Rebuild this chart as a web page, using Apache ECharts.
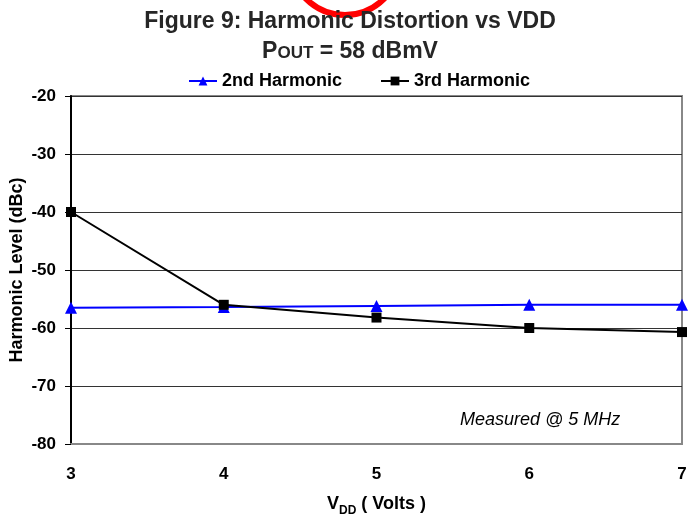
<!DOCTYPE html>
<html>
<head>
<meta charset="utf-8">
<script src="https://cdn.jsdelivr.net/npm/echarts@6/dist/echarts.min.js"></script>
<style>
  html, body { margin: 0; padding: 0; background: #fff; }
  #chart { width: 688px; height: 517px; }
</style>
</head>
<body>
<div id="chart"></div>
<script>
// Supply voltage (V) on the x axis
const vdd = [3, 4, 5, 6, 7];
// Harmonic levels in dBc
const harmonic2nd = [-56.5, -56.4, -56.2, -56.0, -56.0];
const harmonic3rd = [-40.0, -56.0, -58.2, -60.0, -60.7];
const yTicks = [-80, -70, -60, -50, -40, -30, -20];
const xTicks = [3, 4, 5, 6, 7];

const FONT = 'Liberation Sans, Arial, sans-serif';

const chart = echarts.init(document.getElementById('chart'), null, { renderer: 'canvas' });

chart.setOption({
  backgroundColor: '#ffffff',
  animation: false,
  title: {
    text: '{t|Figure 9: Harmonic Distortion vs VDD}\n{t|P}{s|OUT}{t| = 58 dBmV}',
    left: 345,
    top: 2,
    textAlign: 'center',
    textStyle: {
      rich: {
        t: { fontFamily: FONT, fontWeight: 'bold', fontSize: 23, color: '#262626', lineHeight: 30 },
        s: { fontFamily: FONT, fontWeight: 'bold', fontSize: 17, color: '#262626', lineHeight: 30, verticalAlign: 'bottom', padding: [0, 0, 5, 0] }
      }
    }
  },
  legend: {
    top: 67,
    left: 183,
    itemGap: 38,
    itemWidth: 28,
    itemHeight: 11,
    textStyle: { fontFamily: FONT, fontWeight: 'bold', fontSize: 18, color: '#000' },
    data: ['2nd Harmonic', '3rd Harmonic']
  },
  grid: {
    left: 71, right: 6, top: 96, bottom: 73,
    outerBoundsMode: 'none',
    containLabel: false,
    show: true,
    borderColor: '#888888',
    borderWidth: 2
  },
  xAxis: {
    type: 'value',
    min: xTicks[0],
    max: xTicks[xTicks.length - 1],
    interval: 1,
    name: '{n|V}{d|DD}{n| ( Volts )}',
    nameLocation: 'middle',
    nameGap: 51,
    nameTextStyle: {
      rich: {
        n: { fontFamily: FONT, fontWeight: 'bold', fontSize: 18, color: '#000' },
        d: { fontFamily: FONT, fontWeight: 'bold', fontSize: 12, color: '#000', verticalAlign: 'bottom', padding: [0, 0, -4, 0] }
      }
    },
    axisLine: { show: true, lineStyle: { color: '#888888', width: 2 } },
    axisTick: { show: false },
    splitLine: { show: false },
    axisLabel: {
      margin: 22,
      fontFamily: FONT, fontWeight: 'bold', fontSize: 17, color: '#000',
      formatter: v => String(v)
    }
  },
  yAxis: {
    type: 'value',
    min: yTicks[0],
    max: yTicks[yTicks.length - 1],
    interval: 10,
    name: 'Harmonic Level (dBc)',
    nameLocation: 'middle',
    nameGap: 45,
    nameMoveOverlap: false,
    nameTextStyle: { fontFamily: FONT, fontWeight: 'bold', fontSize: 18, color: '#000' },
    axisLine: { show: true, onZero: false, lineStyle: { color: '#000', width: 2 } },
    axisTick: { show: true, inside: false, length: 6, lineStyle: { color: '#000', width: 1 } },
    splitLine: { show: true, lineStyle: { color: '#333333', width: 1.2 } },
    axisLabel: {
      margin: 15,
      fontFamily: FONT, fontWeight: 'bold', fontSize: 17, color: '#000',
      formatter: v => String(v)
    }
  },
  graphic: [
    {
      type: 'circle',
      shape: { cx: 345, cy: -40, r: 55 },
      style: { fill: 'none', stroke: '#ff0000', lineWidth: 6 },
      z: 0
    },
    {
      type: 'text',
      left: 460,
      top: 411,
      style: {
        text: 'Measured @ 5 MHz',
        font: 'italic 18px ' + FONT,
        fill: '#000'
      }
    }
  ],
  series: [
    {
      name: '2nd Harmonic',
      type: 'line',
      data: vdd.map((v, i) => [v, harmonic2nd[i]]),
      symbol: 'triangle',
      symbolSize: 12,
      lineStyle: { color: '#0000ff', width: 2 },
      itemStyle: { color: '#0000ff' },
      z: 3
    },
    {
      name: '3rd Harmonic',
      type: 'line',
      data: vdd.map((v, i) => [v, harmonic3rd[i]]),
      symbol: 'rect',
      symbolSize: 10,
      lineStyle: { color: '#000000', width: 2 },
      itemStyle: { color: '#000000' },
      z: 4
    }
  ]
});
</script>
</body>
</html>
